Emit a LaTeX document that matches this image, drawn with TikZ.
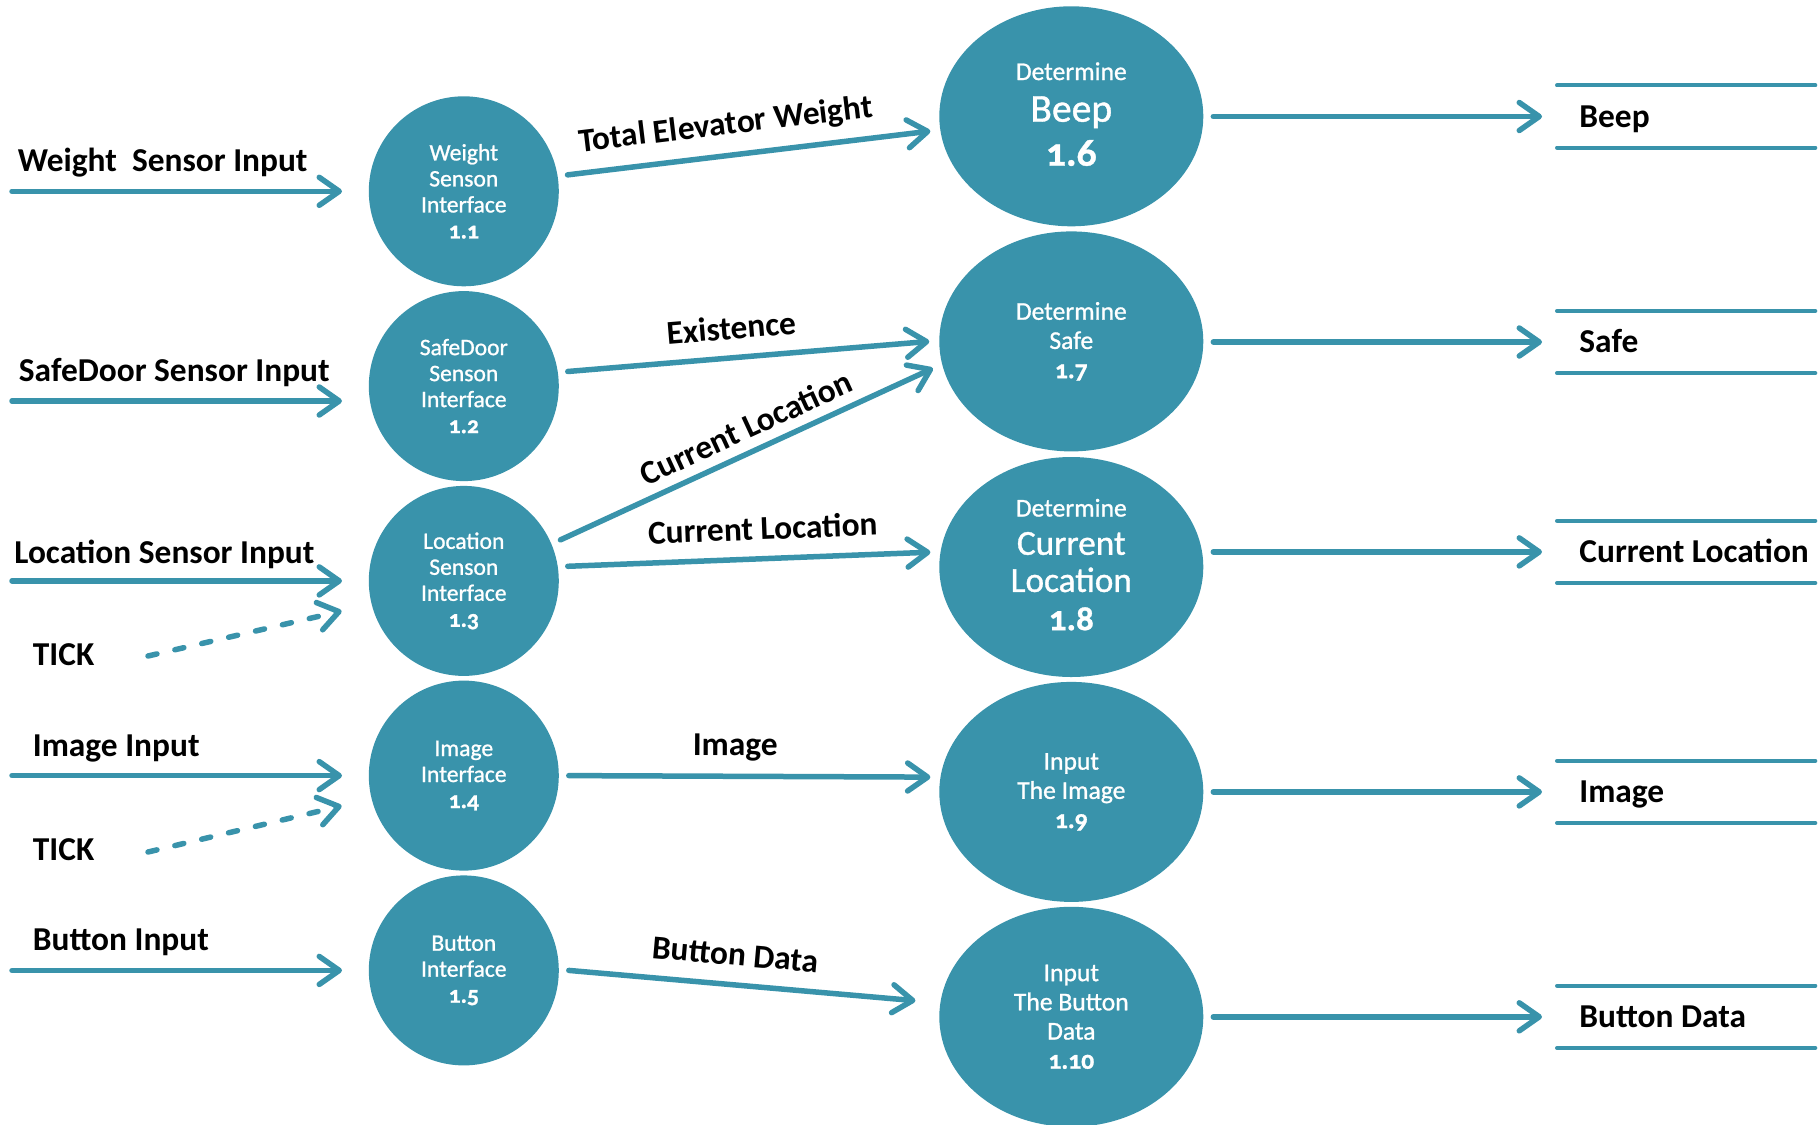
\documentclass[tikz,border=0pt]{standalone}
\usepackage{fontspec}
\setmainfont{Carlito}[Numbers=OldStyle]
\newfontfamily\procfont{Carlito}[Numbers=OldStyle, FakeBold=1]
\usetikzlibrary{arrows.meta,shapes.geometric,calc}
\definecolor{dfd}{RGB}{57,147,171}
\begin{document}
\begin{tikzpicture}[x=0.5pt,y=-0.5pt,
  proc/.style={circle, fill=dfd, minimum size=95pt, inner sep=0pt, outer sep=5pt,
    text=white, align=center, font=\procfont\fontsize{11.8}{13}\selectfont},
  bigproc/.style={ellipse, fill=dfd, minimum width=132pt, minimum height=110pt,
    inner sep=0pt, outer sep=5pt, text=white, align=center,
    font=\procfont\fontsize{12.8}{14.6}\selectfont},
  ptext/.style={text=white, inner sep=0pt, anchor=base, font=\procfont\fontsize{12.8}{14.6}\selectfont},
  beeptext/.style={ptext, font=\procfont\fontsize{19.8}{20}\selectfont},
  loctext/.style={ptext, font=\procfont\fontsize{17.6}{20}\selectfont},
  flow/.style={draw=dfd, line width=2.75pt, line cap=round, line join=round,
    -{Straight Barb[length=10pt,width=14pt,round]}},
  tickflow/.style={flow, dash pattern=on 4.6pt off 9.2pt},
  lbl/.style={font=\fontsize{16.7}{19}\selectfont\bfseries, inner sep=0pt, text depth=0pt},
  store/.style={minimum width=128.75pt, minimum height=30.7pt, inner sep=0pt},
  storetext/.style={lbl, anchor=west, text height=10.6pt},
  storeline/.style={draw=dfd, line width=2pt, line cap=round}]

\useasboundingbox (0,0) rectangle (1818,1124);

% interface processes
\node[proc] (c1) at (463.8,191.3) {Weight\\Senson\\Interface\\\textbf{1.1}};
\node[proc] (c2) at (463.8,386.1) {SafeDoor\\Senson\\Interface\\\textbf{1.2}};
\node[proc] (c3) at (463.8,580.9) {Location\\Senson\\Interface\\\textbf{1.3}};
\node[proc] (c4) at (463.8,775.6) {Image\\Interface\\\textbf{1.4}};
\node[proc] (c5) at (463.8,970.4) {Button\\Interface\\\textbf{1.5}};

% decision processes
\node[bigproc] (e1) at (1071.3,116.3) {};
\node[ptext] (e1a) at ($(e1)+(0,-36.3)$) {Determine};
\node[beeptext] (e1b) at ($(e1)+(0,5.4)$) {Beep};
\node[beeptext] (e1c) at ($(e1)+(0,49.4)$) {\bfseries 1.6};
\node[bigproc] (e2) at (1071.3,341.4) {Determine\\Safe\\\textbf{1.7}};
\node[bigproc] (e3) at (1071.3,567) {};
\node[ptext] (e3a) at ($(e3)+(0,-50.5)$) {Determine};
\node[loctext] (e3b) at ($(e3)+(0,-12.2)$) {Current};
\node[loctext] (e3c) at ($(e3)+(0,24.9)$) {Location};
\node[loctext] (e3d) at ($(e3)+(0,63.1)$) {\bfseries 1.8};
\node[bigproc] (e4) at (1071.3,791.9) {Input\\The Image\\\textbf{1.9}};
\node[bigproc] (e5) at (1071.3,1016.8) {Input\\The Button\\Data\\\textbf{1.10}};

% data stores
\node[store, anchor=west] (ds1) at (1557,116.5) {};
\node[store, anchor=west] (ds2) at (1557,342) {};
\node[store, anchor=west] (ds3) at (1557,551.9) {};
\node[store, anchor=west] (ds4) at (1557,791.9) {};
\node[store, anchor=west] (ds5) at (1557,1016.8) {};
\node[storetext] (ds1t) at ($(ds1.west)+(22,0)$) {Beep};
\node[storetext] (ds2t) at ($(ds2.west)+(22,0)$) {Safe};
\node[storetext] (ds3t) at ($(ds3.west)+(22,0)$) {Current Location};
\node[storetext] (ds4t) at ($(ds4.west)+(22,0)$) {Image};
\node[storetext] (ds5t) at ($(ds5.west)+(22,0)$) {Button Data};
\foreach \s in {ds1,ds2,ds3,ds4,ds5}{
  \draw[storeline] (\s.north west) -- (\s.north east);
  \draw[storeline] (\s.south west) -- (\s.south east);
}

% external inputs
\node[lbl, anchor=base west] (lw) at (17.4,171) {Weight\ \ Sensor Input};
\node[lbl, anchor=base west] (ls) at (18.5,381.5) {SafeDoor Sensor Input};
\node[lbl, anchor=base west] (ll) at (14,563.5) {Location Sensor Input};
\node[lbl, anchor=base west] (tick1) at (32.5,665.5) {TICK};
\node[lbl, anchor=base west] (li) at (32.5,756) {Image Input};
\node[lbl, anchor=base west] (tick2) at (32.5,860.4) {TICK};
\node[lbl, anchor=base west] (lb) at (32.5,950.8) {Button Input};

\coordinate (in1) at (12,191.3);
\coordinate (in2) at (12,401);
\coordinate (in3) at (12,580.9);
\coordinate (in4) at (12,775.6);
\coordinate (in5) at (12,970.4);
\coordinate (t1s) at (148,656);
\coordinate (t2s) at (148,852);

\draw[flow, shorten >=8.4pt] (in1) -- (in1 -| c1.west);
\draw[flow, shorten >=8.4pt] (in2) -- (in2 -| c2.west);
\draw[flow, shorten >=8.4pt] (in3) -- (in3 -| c3.west);
\draw[flow, shorten >=8.4pt] (in4) -- (in4 -| c4.west);
\draw[flow, shorten >=8.4pt] (in5) -- (in5 -| c5.west);
\draw[tickflow, shorten >=10.4pt] (t1s) -- (c3.194.6);
\draw[tickflow, shorten >=10.4pt] (t2s) -- (c4.194.6);

% internal flows
\draw[flow] (c1.9) -- node[lbl, pos=0.446, sloped, above=9.2pt] {Total Elevator Weight} (e1.186.8);
\draw[flow] (c2.8) -- node[lbl, pos=0.459, sloped, above=7.9pt] {Existence} (e2.west);
\draw[flow] (c3.23.5) -- node[lbl, pos=0.526, sloped, above=5pt] {Current Location} (e2.191.6);
\draw[flow] (c3.8) -- node[lbl, pos=0.541, sloped, above=8.1pt] {Current Location} (e3.174);
\draw[flow] (c4.east) -- node[lbl, pos=0.46, sloped, above=9pt] {Image} (e4.174);
\draw[flow, shorten >=7.5pt] (c5.east) -- node[lbl, pos=0.453, sloped, above=8.3pt] {Button Data} (e5.174.2);

% outputs to stores
\draw[flow, shorten >=7.5pt] (ds1.west -| e1.east) -- (ds1.west);
\draw[flow, shorten >=7.5pt] (ds2.west -| e2.east) -- (ds2.west);
\draw[flow, shorten >=7.5pt] (ds3.west -| e3.east) -- (ds3.west);
\draw[flow, shorten >=7.5pt] (ds4.west -| e4.east) -- (ds4.west);
\draw[flow, shorten >=7.5pt] (ds5.west -| e5.east) -- (ds5.west);
\end{tikzpicture}
\end{document}
